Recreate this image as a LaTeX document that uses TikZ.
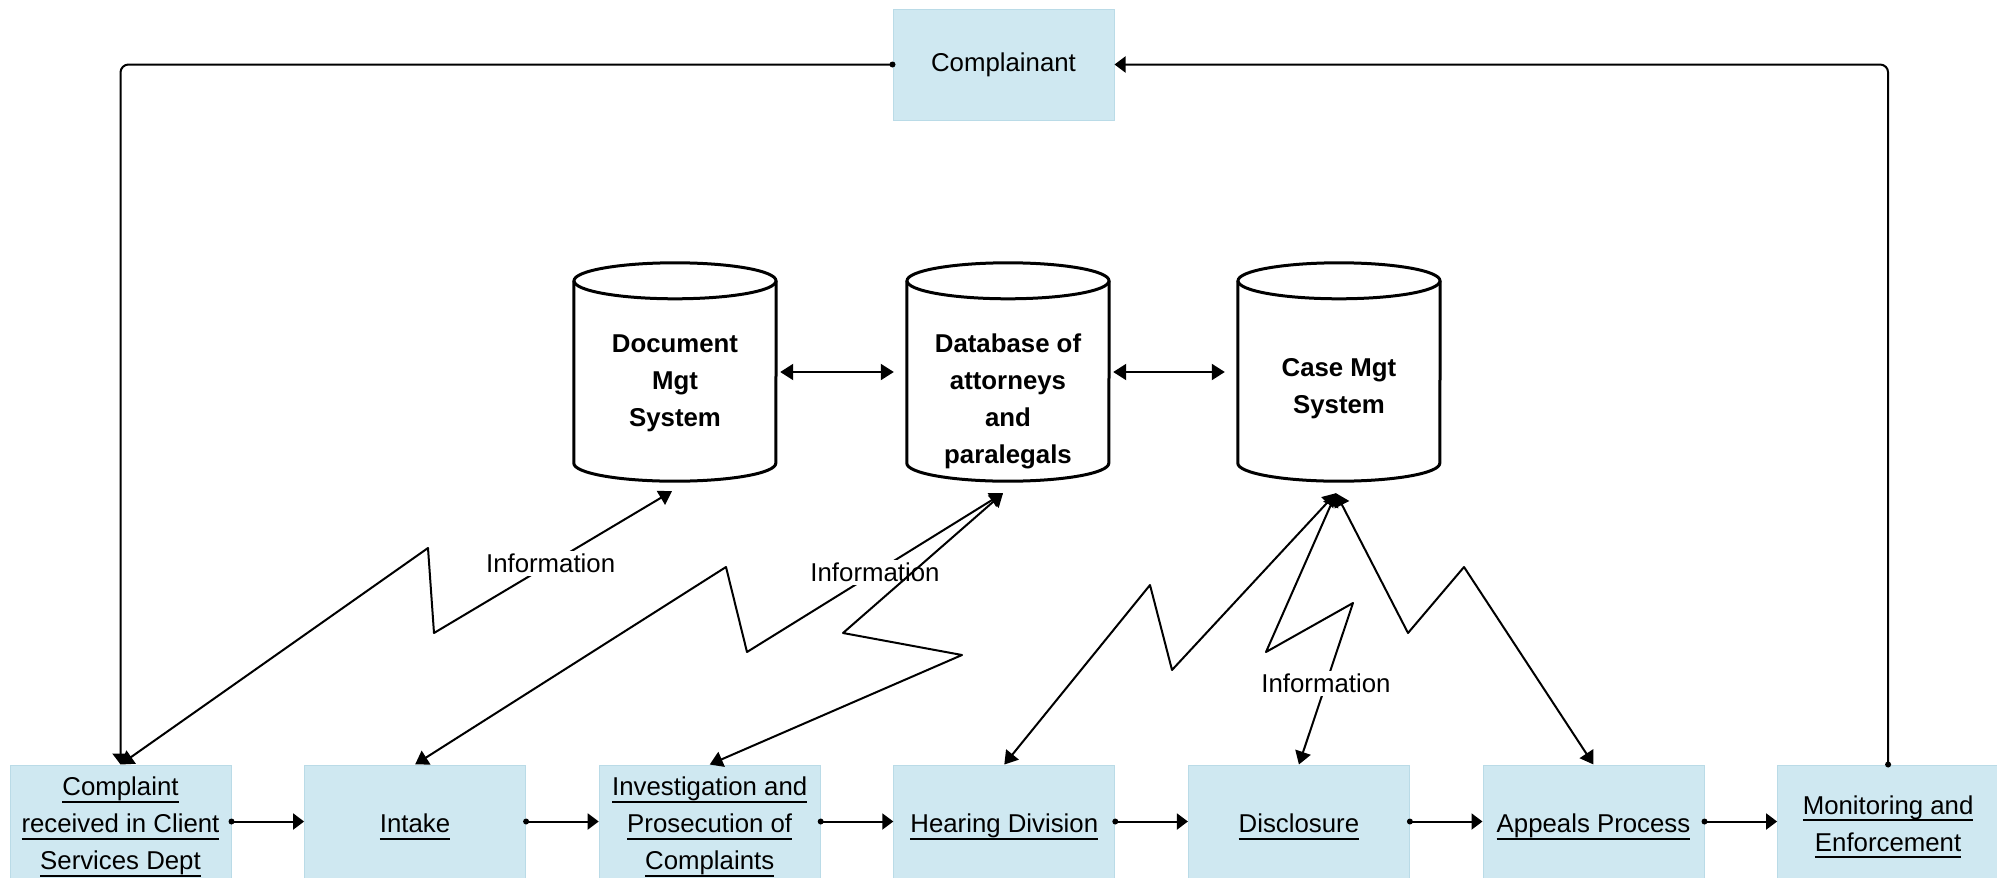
\documentclass[tikz,border=0pt]{standalone}
\usepackage{fontspec}
\setmainfont{Liberation Sans}
\usetikzlibrary{arrows.meta}
\definecolor{boxfill}{RGB}{207,232,241}
\definecolor{boxedge}{RGB}{186,219,231}
\newcommand\lnk[1]{\setbox0\hbox{#1}\rlap{\smash{\rule[-7pt]{\wd0}{1.6pt}}}\box0\rule[-7pt]{0pt}{36pt}}
\newcommand\drawcyl[1]{%
  \draw[cylline] ([yshift=-18pt]#1.north west) -- ([yshift=18pt]#1.south west)
     arc[start angle=180,end angle=360,x radius=101pt,y radius=18pt]
     -- ([yshift=-18pt]#1.north east);
  \draw[cylline] ([yshift=-18pt]#1.north) ellipse[x radius=101pt,y radius=18pt];}
\begin{document}
\begin{tikzpicture}[x=1pt,y=-1pt,
  txt/.style={font=\fontsize{25.8}{37}\selectfont},
  procbox/.style={txt, rectangle, fill=boxfill, draw=boxedge, line width=1pt,
     minimum width=221pt, minimum height=113pt, align=center, inner sep=0pt},
  dbnode/.style={rectangle, minimum width=202pt, minimum height=218pt, inner sep=0pt},
  dblabel/.style={font=\fontsize{25.8}{37}\selectfont\bfseries, align=center, inner sep=0pt},
  conn/.style={line width=2pt, line join=round,
     {Triangle[length=13pt,width=16pt]}-{Triangle[length=13pt,width=16pt]}},
  flow/.style={line width=2pt, -{Triangle[length=11pt,width=16pt]}},
  info/.style={txt, fill=white, inner sep=3pt},
  cylline/.style={line width=3pt}
]
\useasboundingbox (0,0) rectangle (1997,878);
\fill[white] (0,0) rectangle (1997,878);

% process boxes
\node[procbox, minimum height=111pt] (cmp) at (1003.5,64.5) {Complainant};
\node[procbox] (b1) at (120.5,821.5) {\lnk{Complaint}\\\lnk{received in Client}\\\lnk{Services Dept}};
\node[procbox] (b2) at (415.1,821.5) {\lnk{Intake}};
\node[procbox] (b3) at (709.7,821.5) {\lnk{Investigation and}\\\lnk{Prosecution of}\\\lnk{Complaints}};
\node[procbox] (b4) at (1004.3,821.5) {\lnk{Hearing Division}};
\node[procbox] (b5) at (1298.9,821.5) {\lnk{Disclosure}};
\node[procbox] (b6) at (1593.5,821.5) {\lnk{Appeals Process}};
\node[procbox] (b7) at (1888.1,821.5) {\lnk{Monitoring and}\\\lnk{Enforcement}};

% databases
\node[dbnode] (c1) at (675,372) {};
\node[dbnode] (c2) at (1008,372) {};
\node[dbnode] (c3) at (1339,372) {};
\drawcyl{c1}
\drawcyl{c2}
\drawcyl{c3}
\node[dblabel] (c1t) at (675,383) {Document\\Mgt\\System};
\node[dblabel] (c2t) at (1008,401) {Database of\\attorneys\\and\\paralegals};
\node[dblabel] (c3t) at (1339,389) {Case Mgt\\System};

\draw[conn] ([xshift=4pt]c1.east) -- ([xshift=-13pt]c2.west);
\draw[conn] ([xshift=4pt]c2.east) -- ([xshift=-13pt]c3.west);

% connector ends under the databases
\coordinate (t1) at ([xshift=-3pt,yshift=-10pt]c1.south);
\coordinate (t2) at ([xshift=-5pt,yshift=-12pt]c2.south);
\coordinate (t3) at ([xshift=-3pt,yshift=-12pt]c3.south);

% zigzag information links
\draw[conn] (b1.north) -- (428,548) -- (434,633) -- node[info,pos=0.49]{Information} (t1);
\draw[conn] (b2.north) -- (726,567) -- (747,652) -- node[info,pos=0.5]{Information} (t2);
\draw[conn] (b3.north) -- (962,655) -- (843,633) -- (t2);
\draw[conn] (b4.north) -- (1150,585) -- (1172,670) -- (t3);
\draw[conn] (b5.north) -- node[info,pos=0.5]{Information} (1353,603) -- (1266,652) -- (t3);
\draw[conn] (b6.north) -- (1464,567) -- (1408,633) -- (t3);

% process flow
\foreach \a/\b in {b1/b2,b2/b3,b3/b4,b4/b5,b5/b6,b6/b7}{
  \draw[flow] (\a.east) -- (\b.west);
  \fill (\a.east) circle (3pt);
}

% complainant loop
\draw[flow, rounded corners=8pt] (cmp.west) -- (b1.north |- cmp.west) -- (b1.north);
\fill (cmp.west) circle (3pt);
\draw[flow, rounded corners=8pt] (b7.north) -- (b7.north |- cmp.east) -- (cmp.east);
\fill (b7.north) circle (3pt);
\end{tikzpicture}
\end{document}
